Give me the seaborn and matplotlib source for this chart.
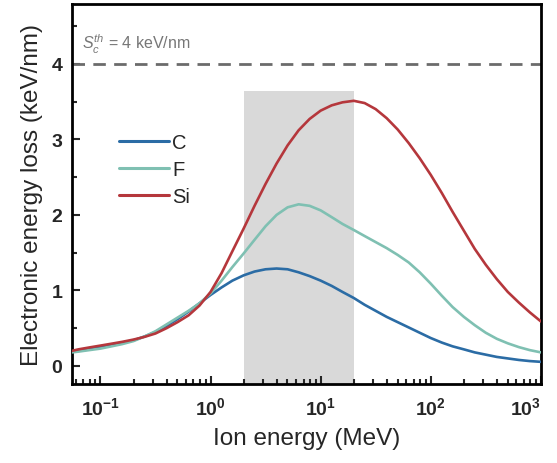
import matplotlib
matplotlib.use('Agg')
import matplotlib.pyplot as plt
import numpy as np
import pandas as pd
import seaborn as sns
from matplotlib.ticker import FixedLocator, LogLocator, MultipleLocator, NullFormatter

sns.set_style('ticks')
plt.rcParams['font.family'] = ['Liberation Sans', 'DejaVu Sans']
plt.rcParams['mathtext.fontset'] = 'custom'
plt.rcParams['mathtext.rm'] = 'Liberation Sans'
plt.rcParams['mathtext.it'] = 'Liberation Sans:italic'
plt.rcParams['mathtext.bf'] = 'Liberation Sans:bold'

# data (ion energy in MeV, energy loss in keV/nm)
energy = [0.055, 0.063, 0.079, 0.1, 0.126, 0.158, 0.2, 0.251, 0.316, 0.398, 0.501,
          0.631, 0.794, 1.0, 1.26, 1.58, 2.0, 2.51, 3.16, 3.98, 5.01, 6.31, 7.94,
          10, 12.6, 15.8, 20, 25.1, 31.6, 39.8, 50.1, 63.1, 79.4, 100, 126, 158,
          200, 251, 316, 398, 501, 631, 794, 1000]
loss_C = [0.19, 0.20, 0.22, 0.25, 0.28, 0.31, 0.34, 0.39, 0.45, 0.53, 0.62,
          0.72, 0.83, 0.94, 1.04, 1.13, 1.20, 1.25, 1.28, 1.29, 1.28, 1.24, 1.19,
          1.13, 1.06, 0.98, 0.90, 0.81, 0.73, 0.65, 0.58, 0.51, 0.44, 0.37, 0.31, 0.26,
          0.22, 0.18, 0.15, 0.12, 0.10, 0.08, 0.065, 0.055]
loss_F = [0.18, 0.19, 0.21, 0.23, 0.26, 0.29, 0.33, 0.39, 0.46, 0.55, 0.64,
          0.73, 0.83, 0.96, 1.13, 1.31, 1.49, 1.67, 1.85, 2.00, 2.10, 2.14, 2.12,
          2.06, 1.97, 1.88, 1.80, 1.72, 1.64, 1.56, 1.47, 1.37, 1.24, 1.09, 0.93, 0.78,
          0.65, 0.54, 0.44, 0.36, 0.30, 0.25, 0.21, 0.18]
loss_Si = [0.20, 0.22, 0.245, 0.27, 0.295, 0.32, 0.35, 0.385, 0.43, 0.50, 0.58,
           0.67, 0.80, 0.98, 1.23, 1.52, 1.82, 2.12, 2.41, 2.68, 2.92, 3.12, 3.27,
           3.38, 3.45, 3.49, 3.51, 3.48, 3.40, 3.28, 3.13, 2.95, 2.75, 2.53, 2.29, 2.04,
           1.79, 1.55, 1.34, 1.15, 0.98, 0.84, 0.71, 0.59]
ions = ['C', 'F', 'Si']
ion_colors = {'C': '#2b6ca5', 'F': '#7fc0b2', 'Si': '#b5373c'}

threshold = 4
shade_x = [2, 20]
shade_top = 3.64

xticks = [0.1, 1, 10, 100, 1000]
xtick_labels = [r'$\mathbf{10^{-1}}$', r'$\mathbf{10^{0}}$', r'$\mathbf{10^{1}}$',
                r'$\mathbf{10^{2}}$', r'$\mathbf{10^{3}}$']
yticks = [0, 1, 2, 3, 4]

df = pd.DataFrame({
    'Energy': energy * 3,
    'Loss': loss_C + loss_F + loss_Si,
    'Ion': ['C'] * len(energy) + ['F'] * len(energy) + ['Si'] * len(energy),
})

fig = plt.figure(figsize=(5.57, 4.64), dpi=100)
ax = fig.add_axes([0.129, 0.170, 0.842, 0.819])

ylo, yhi = -0.24, 4.79
ax.fill_between(shade_x, ylo, shade_top, color='#d9d9d9', lw=0, zorder=0)
ax.axhline(threshold, color='#6b6b6b', lw=2.0, ls=(0, (4.5, 3)), zorder=1)

sns.lineplot(data=df, x='Energy', y='Loss', hue='Ion', hue_order=ions,
             palette=ion_colors, lw=1.9, ax=ax, legend=False, zorder=3)

ax.set_xscale('log')
ax.set_xlim(0.055, 1000)
ax.set_ylim(ylo, yhi)

ax.xaxis.set_major_locator(FixedLocator(xticks))
ax.set_xticklabels(xtick_labels)
ax.xaxis.set_minor_locator(LogLocator(base=10, subs=np.arange(2, 10), numticks=20))
ax.xaxis.set_minor_formatter(NullFormatter())
ax.set_yticks(yticks)
ax.yaxis.set_minor_locator(MultipleLocator(0.5))

ax.tick_params(which='both', direction='in', top=False, right=False, width=1.5)
ax.tick_params(which='major', length=6, labelsize=14)
ax.tick_params(which='minor', length=3.5)
for lab in ax.get_yticklabels():
    lab.set_fontweight('bold')
ax.tick_params(axis='x', pad=9)
ax.tick_params(axis='y', pad=7)
# keep the last tick label inside the canvas
ax.get_xticklabels()[-1].set_horizontalalignment('right')

for sp in ax.spines.values():
    sp.set_linewidth(2)
    sp.set_color('black')

ax.set_xlabel('Ion energy (MeV)', fontsize=17.5, labelpad=6)
ax.set_ylabel('Electronic energy loss (keV/nm)', fontsize=17.5, labelpad=6)

ax.text(0.068, 4.27, r'$S_c^{th}$ = 4 keV/nm', color='#777777', fontsize=11.5,
        va='center', ha='left')

handles = [plt.Line2D([], [], color=ion_colors[k], lw=2.2) for k in ions]
ax.legend(handles, ions, loc='upper left', bbox_to_anchor=(0.1, 0.662),
          frameon=False, fontsize=14.5, handlelength=2.5, handletextpad=0.15,
          labelspacing=0.4, borderaxespad=0, borderpad=0)

fig.savefig('out.png', dpi=100)
